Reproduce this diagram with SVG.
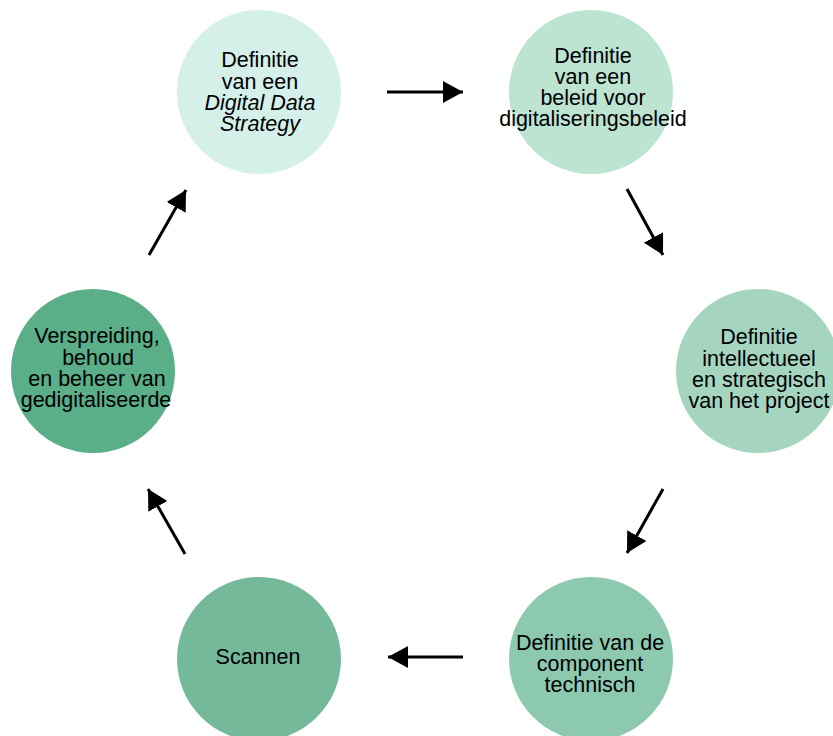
<svg xmlns="http://www.w3.org/2000/svg" width="833" height="736" viewBox="0 0 833 736">
<defs>
<style>
.t{font-family:"Liberation Sans",Arial,sans-serif;font-size:21.5px;fill:#000;text-anchor:middle}
.i{font-style:italic}
.c{stroke:#000;stroke-width:3;fill:none}
</style>
<marker id="ah" viewBox="0 0 20 22" refX="20" refY="11" markerWidth="20" markerHeight="22" markerUnits="userSpaceOnUse" orient="auto">
<path d="M0,0 L20,11 L0,22 Z" fill="#000"/>
</marker>
</defs>
<rect width="833" height="736" fill="#fff"/>
<g id="n1">
<circle cx="259" cy="92" r="82" fill="#d5f0e8"/>
<text class="t" x="260" y="67">Definitie</text>
<text class="t" x="260" y="89">van een</text>
<text class="t i" x="260" y="110">Digital Data</text>
<text class="t i" x="260" y="131">Strategy</text>
</g>
<g id="n2">
<circle cx="591" cy="92" r="82" fill="#bde3d1"/>
<text class="t" x="593" y="63">Definitie</text>
<text class="t" x="593" y="84">van een</text>
<text class="t" x="593" y="105">beleid voor</text>
<text class="t" x="593" y="126">digitaliseringsbeleid</text>
</g>
<g id="n3">
<circle cx="758" cy="371" r="82" fill="#a6d5bf"/>
<text class="t" x="759" y="344">Definitie</text>
<text class="t" x="759" y="366">intellectueel</text>
<text class="t" x="759" y="387">en strategisch</text>
<text class="t" x="759" y="408">van het project</text>
</g>
<g id="n4">
<circle cx="591" cy="659" r="82" fill="#8dc9af"/>
<text class="t" x="590" y="650">Definitie van de</text>
<text class="t" x="590" y="671">component</text>
<text class="t" x="590" y="692">technisch</text>
</g>
<g id="n5">
<circle cx="259" cy="659" r="82" fill="#73b99a"/>
<text class="t" x="258" y="664">Scannen</text>
</g>
<g id="n6">
<circle cx="93" cy="371" r="82" fill="#5aae88"/>
<text class="t" x="97" y="343">Verspreiding,</text>
<text class="t" x="98" y="365">behoud</text>
<text class="t" x="97" y="386">en beheer van</text>
<text class="t" x="96" y="407">gedigitaliseerde</text>
</g>
<g id="connectors">
<line class="c" x1="387" y1="92" x2="463" y2="92" marker-end="url(#ah)"/>
<line class="c" x1="627" y1="189" x2="663" y2="255" marker-end="url(#ah)"/>
<line class="c" x1="663" y1="489" x2="627" y2="553" marker-end="url(#ah)"/>
<line class="c" x1="463" y1="657" x2="388" y2="657" marker-end="url(#ah)"/>
<line class="c" x1="185" y1="554" x2="148" y2="489" marker-end="url(#ah)"/>
<line class="c" x1="149" y1="255" x2="186" y2="190" marker-end="url(#ah)"/>
</g>
</svg>
